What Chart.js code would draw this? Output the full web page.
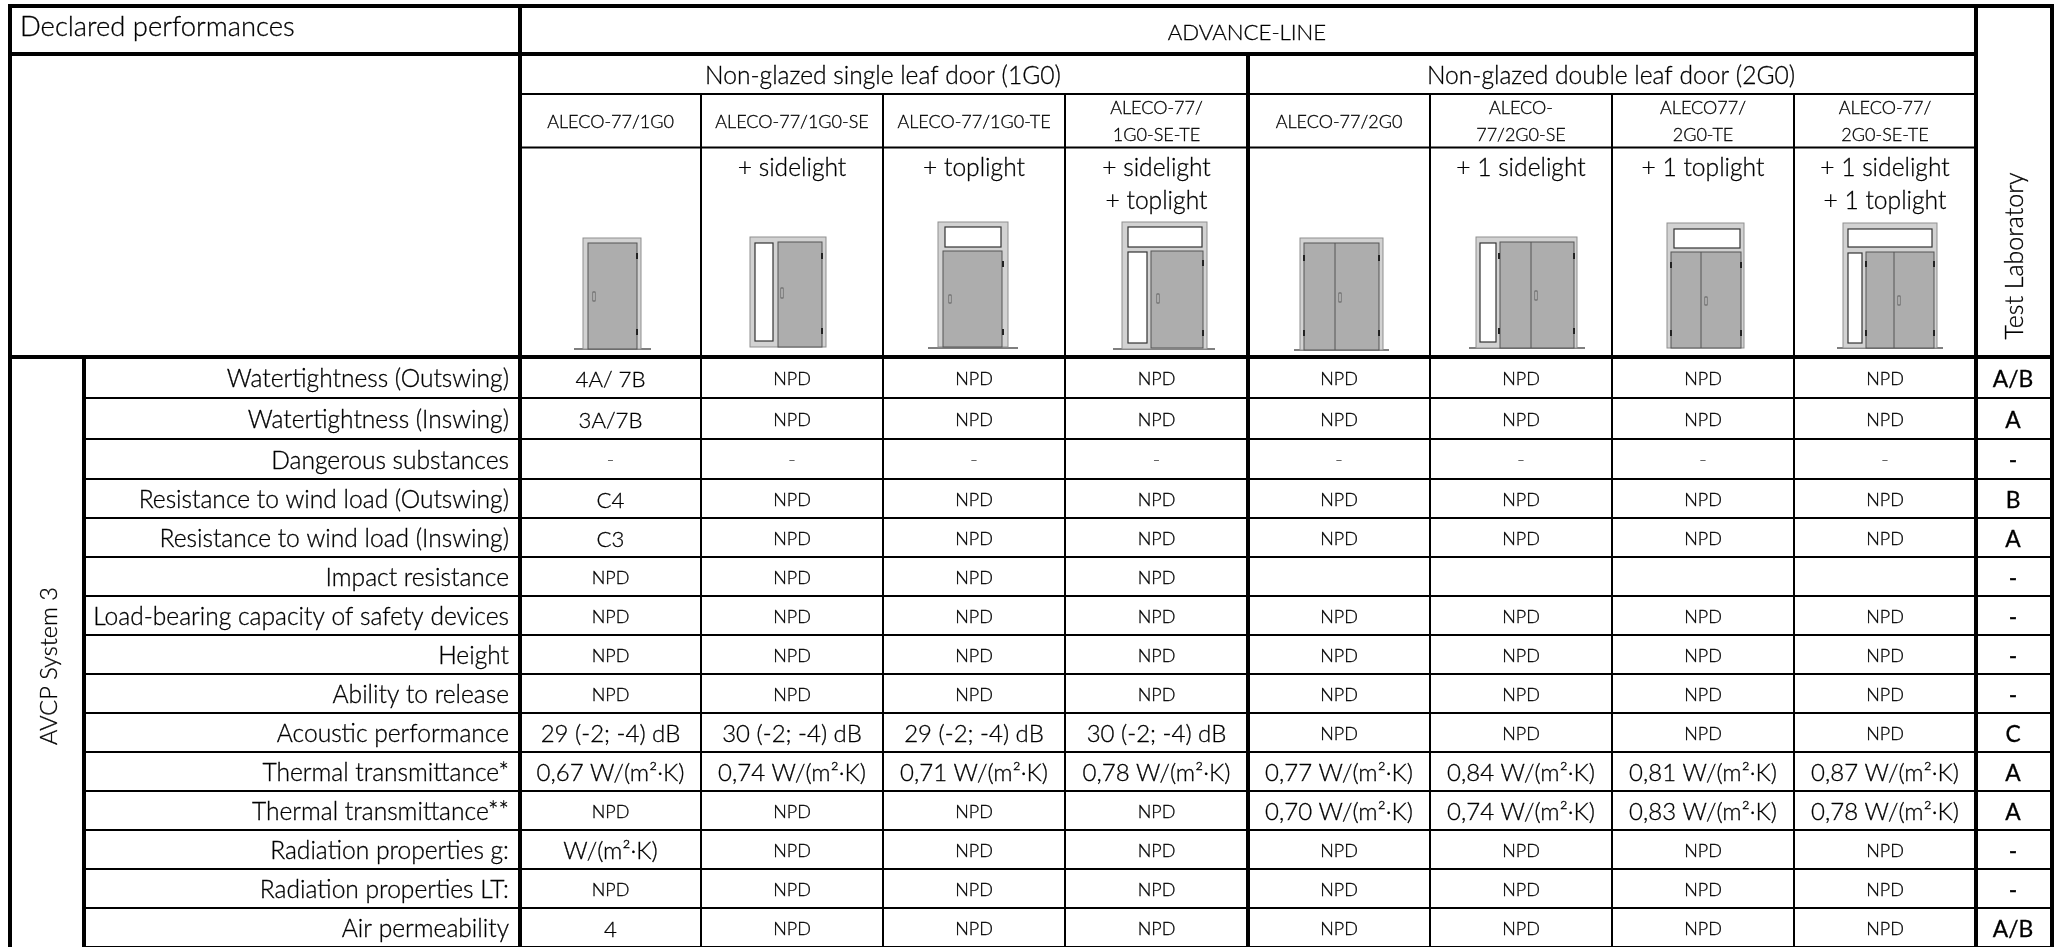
<!DOCTYPE html>
<html>
<head>
<meta charset="utf-8">
<title>Declared performances</title>
<script src="https://cdn.jsdelivr.net/npm/chart.js@4"></script>
<style>
  html, body { margin: 0; padding: 0; background: #fff; }
  canvas { display: block; }
</style>
</head>
<body>
<canvas id="tableChart" width="2060" height="947"></canvas>
<script>
// Table content
const rowLabels = [
    'Watertightness (Outswing)', 'Watertightness (Inswing)', 'Dangerous substances',
    'Resistance to wind load (Outswing)', 'Resistance to wind load (Inswing)', 'Impact resistance',
    'Load-bearing capacity of safety devices', 'Height', 'Ability to release', 'Acoustic performance',
    'Thermal transmittance*', 'Thermal transmittance**', 'Radiation properties g:',
    'Radiation properties LT:', 'Air permeability'
];
const watertightOut = ['4A/ 7B', 'NPD', 'NPD', 'NPD', 'NPD', 'NPD', 'NPD', 'NPD'];
const watertightIn = ['3A/7B', 'NPD', 'NPD', 'NPD', 'NPD', 'NPD', 'NPD', 'NPD'];
const dangerous = ['-', '-', '-', '-', '-', '-', '-', '-'];
const windOut = ['C4', 'NPD', 'NPD', 'NPD', 'NPD', 'NPD', 'NPD', 'NPD'];
const windIn = ['C3', 'NPD', 'NPD', 'NPD', 'NPD', 'NPD', 'NPD', 'NPD'];
const impact = ['NPD', 'NPD', 'NPD', 'NPD', '', '', '', ''];
const loadBearing = ['NPD', 'NPD', 'NPD', 'NPD', 'NPD', 'NPD', 'NPD', 'NPD'];
const heightRow = ['NPD', 'NPD', 'NPD', 'NPD', 'NPD', 'NPD', 'NPD', 'NPD'];
const release = ['NPD', 'NPD', 'NPD', 'NPD', 'NPD', 'NPD', 'NPD', 'NPD'];
const acoustic = ['29 (-2; -4) dB', '30 (-2; -4) dB', '29 (-2; -4) dB', '30 (-2; -4) dB', 'NPD', 'NPD', 'NPD', 'NPD'];
const thermal1 = ['0,67 W/(m²·K)', '0,74 W/(m²·K)', '0,71 W/(m²·K)', '0,78 W/(m²·K)', '0,77 W/(m²·K)', '0,84 W/(m²·K)', '0,81 W/(m²·K)', '0,87 W/(m²·K)'];
const thermal2 = ['NPD', 'NPD', 'NPD', 'NPD', '0,70 W/(m²·K)', '0,74 W/(m²·K)', '0,83 W/(m²·K)', '0,78 W/(m²·K)'];
const radiationG = ['W/(m²·K)', 'NPD', 'NPD', 'NPD', 'NPD', 'NPD', 'NPD', 'NPD'];
const radiationLT = ['NPD', 'NPD', 'NPD', 'NPD', 'NPD', 'NPD', 'NPD', 'NPD'];
const airPerm = ['4', 'NPD', 'NPD', 'NPD', 'NPD', 'NPD', 'NPD', 'NPD'];
const testLab = ['A/B', 'A', '-', 'B', 'A', '-', '-', '-', '-', 'C', 'A', 'A', '-', '-', 'A/B'];

const modelNames = [
    ['ALECO-77/1G0'], ['ALECO-77/1G0-SE'], ['ALECO-77/1G0-TE'], ['ALECO-77/', '1G0-SE-TE'],
    ['ALECO-77/2G0'], ['ALECO-', '77/2G0-SE'], ['ALECO77/', '2G0-TE'], ['ALECO-77/', '2G0-SE-TE']
];
const extras = [
    [], ['+ sidelight'], ['+ toplight'], ['+ sidelight', '+ toplight'],
    [], ['+ 1 sidelight'], ['+ 1 toplight'], ['+ 1 sidelight', '+ 1 toplight']
];

const valueRows = [watertightOut, watertightIn, dangerous, windOut, windIn, impact, loadBearing,
    heightRow, release, acoustic, thermal1, thermal2, radiationG, radiationLT, airPerm];

// Layout, in canvas units (the scales below run 1:1 with the canvas)
const columnEdges = [520, 701, 883, 1065, 1248, 1430, 1612, 1794, 1976];
const rowEdges = [357, 398, 439, 479, 518, 557, 596, 635, 674, 713, 752, 791, 830, 869, 908, 947];
const thickColumns = [84, 520, 1248, 1976, 2052];
const FONT = 'Lato, "Open Sans", sans-serif';

// Door pictograms: outer frame, leaf, optional sidelight/toplight, mullion, handle, hinges
const doors = [
    { frame: [583, 238, 641, 349], leaf: [588, 243, 637, 349], handle: [594, 292, 301], hinges: [637], hingeY: [256, 332], floor: [574, 651, 349] },
    { frame: [750, 237, 826, 347], leaf: [778, 242, 822, 347], side: [755, 243, 773, 341], handle: [782, 288, 298], hinges: [822], hingeY: [256, 331] },
    { frame: [938, 222, 1008, 347], leaf: [943, 251, 1002, 347], top: [945, 227, 1001, 247], handle: [950, 295, 303], hinges: [1003], hingeY: [264, 332], floor: [928, 1018, 348] },
    { frame: [1122, 222, 1207, 349], leaf: [1151, 251, 1203, 348], side: [1128, 252, 1147, 343], top: [1128, 227, 1202, 247], handle: [1158, 294, 303], hinges: [1203], hingeY: [263, 333], floor: [1113, 1215, 349] },
    { frame: [1300, 238, 1383, 350], leaf: [1304, 243, 1379, 350], mid: 1335, handle: [1340, 293, 302], hinges: [1304, 1379], hingeY: [258, 333], floor: [1294, 1389, 350] },
    { frame: [1476, 237, 1577, 348], leaf: [1500, 242, 1574, 348], side: [1480, 243, 1496, 342], mid: 1531, handle: [1536, 291, 300], hinges: [1499, 1574], hingeY: [256, 331], floor: [1469, 1585, 348] },
    { frame: [1667, 223, 1744, 348], leaf: [1671, 252, 1741, 348], top: [1674, 229, 1740, 248], mid: 1701, handle: [1706, 297, 305], hinges: [1671, 1741], hingeY: [265, 333] },
    { frame: [1843, 223, 1937, 348], leaf: [1866, 252, 1934, 348], side: [1848, 253, 1862, 343], top: [1848, 229, 1932, 247], mid: 1894, handle: [1899, 296, 305], hinges: [1866, 1934], hingeY: [264, 333], floor: [1837, 1943, 348] }
];

const centerOf = (edges, i) => (edges[i] + edges[i + 1]) / 2;

// Table cells as points on the scales; the plugin writes their text
const cellPoints = [];
valueRows.forEach((row, r) => row.forEach((text, c) => {
    cellPoints.push({ x: centerOf(columnEdges, c), y: centerOf(rowEdges, r) + 2, text: text });
}));
const labelPoints = rowLabels.map((text, r) => ({ x: 509, y: centerOf(rowEdges, r) + 2, text: text }));
const labPoints = testLab.map((text, r) => ({ x: 2013, y: centerOf(rowEdges, r) + 2, text: text }));

function writeText(ctx, text, x, y, size, align, color, weight) {
    ctx.save();
    ctx.font = (weight || 300) + ' ' + size + 'px ' + FONT;
    ctx.fillStyle = color || '#000';
    ctx.textAlign = align || 'center';
    ctx.textBaseline = 'middle';
    ctx.fillText(text, x, y);
    // Lato Light comes out thinner than the original text, thicken it a little
    ctx.strokeStyle = ctx.fillStyle;
    ctx.lineWidth = 0.3;
    ctx.strokeText(text, x, y);
    ctx.restore();
}

function writeVertical(ctx, text, x, y, size) {
    ctx.save();
    ctx.translate(x, y);
    ctx.rotate(-Math.PI / 2);
    writeText(ctx, text, 0, 0, size);
    ctx.restore();
}

const tablePlugin = {
    id: 'tablePlugin',
    afterDraw(chart) {
        const { ctx, scales: { x, y } } = chart;
        const px = v => x.getPixelForValue(v);
        const py = v => y.getPixelForValue(v);

        const rule = (x0, y0, x1, y1, w) => {
            ctx.beginPath();
            ctx.lineWidth = w;
            ctx.strokeStyle = '#000';
            ctx.moveTo(px(x0), py(y0));
            ctx.lineTo(px(x1), py(y1));
            ctx.stroke();
        };
        const box = (r, fill) => {
            ctx.fillStyle = fill;
            ctx.fillRect(px(r[0]), py(r[1]), px(r[2]) - px(r[0]), py(r[3]) - py(r[1]));
        };

        // Header rules, the library's grid only covers the value rows
        rule(8, 6, 2054, 6, 4);
        rule(8, 54, 1976, 54, 4);
        rule(520, 94, 1976, 94, 2);
        rule(520, 147.5, 1976, 147.5, 2);
        rule(8, 357, 2054, 357, 4);
        rule(10, 4, 10, 947, 4);
        rule(520, 4, 520, 357, 4);
        rule(1976, 4, 1976, 357, 4);
        rule(2052, 4, 2052, 357, 4);
        rule(1248, 54, 1248, 357, 4);
        columnEdges.forEach(v => {
            if (!thickColumns.includes(v)) rule(v, 94, v, 357, 2);
        });

        // Header text
        writeText(ctx, 'Declared performances', 20, 27, 27.4, 'left');
        writeText(ctx, 'ADVANCE-LINE', 1247, 33, 22.2);
        writeText(ctx, 'Non-glazed single leaf door (1G0)', 883, 76, 24.6);
        writeText(ctx, 'Non-glazed double leaf door (2G0)', 1611, 76, 24.6);
        writeVertical(ctx, 'Test Laboratory', px(2015), py(256), 25);
        writeVertical(ctx, 'AVCP System 3', px(49), py(666), 23.5);

        modelNames.forEach((lines, c) => {
            const cx = px(centerOf(columnEdges, c));
            if (lines.length === 1) writeText(ctx, lines[0], cx, py(122), 18);
            else {
                writeText(ctx, lines[0], cx, py(108), 18);
                writeText(ctx, lines[1], cx, py(135), 18);
            }
        });
        extras.forEach((lines, c) => {
            const cx = px(centerOf(columnEdges, c));
            lines.forEach((t, i) => writeText(ctx, t, cx, py(168 + i * 33), 24.6));
        });

        // Door pictograms
        doors.forEach(d => {
            if (d.floor) rule(d.floor[0], d.floor[2], d.floor[1], d.floor[2], 1.2);
            box(d.frame, '#d2d2d2');
            ctx.strokeStyle = '#8f8f8f';
            ctx.lineWidth = 1;
            ctx.strokeRect(px(d.frame[0]), py(d.frame[1]), px(d.frame[2]) - px(d.frame[0]), py(d.frame[3]) - py(d.frame[1]));
            box(d.leaf, '#adadad');
            ctx.strokeStyle = '#555';
            ctx.strokeRect(px(d.leaf[0]), py(d.leaf[1]), px(d.leaf[2]) - px(d.leaf[0]), py(d.leaf[3]) - py(d.leaf[1]));
            [d.side, d.top].forEach(g => {
                if (!g) return;
                box(g, '#fff');
                ctx.strokeStyle = '#333';
                ctx.lineWidth = 1.2;
                ctx.strokeRect(px(g[0]), py(g[1]), px(g[2]) - px(g[0]), py(g[3]) - py(g[1]));
            });
            if (d.mid) {
                ctx.beginPath();
                ctx.lineWidth = 1;
                ctx.strokeStyle = '#555';
                ctx.moveTo(px(d.mid), py(d.leaf[1]));
                ctx.lineTo(px(d.mid), py(d.leaf[3]));
                ctx.stroke();
            }
            ctx.fillStyle = '#eee';
            ctx.strokeStyle = '#444';
            ctx.lineWidth = 0.8;
            ctx.fillRect(px(d.handle[0]) - 1, py(d.handle[1]), 2, py(d.handle[2]) - py(d.handle[1]));
            ctx.strokeRect(px(d.handle[0]) - 1, py(d.handle[1]), 2, py(d.handle[2]) - py(d.handle[1]));
            ctx.fillStyle = '#222';
            d.hinges.forEach(h => d.hingeY.forEach(hy => {
                ctx.fillRect(px(h) - 1, py(hy) - 3, 2, 6);
            }));
        });

        // Cell text from the datasets
        const capsOnly = /^[0-9A-Z\/ ]+$/;
        chart.getDatasetMeta(0).data.forEach((pt, i) => {
            const text = cellPoints[i].text;
            if (!text) return;
            if (text === '-') writeText(ctx, text, pt.x, pt.y - 1, 20, 'center', '#555');
            else if (text === 'NPD') writeText(ctx, text, pt.x, pt.y, 18);
            else writeText(ctx, text, pt.x, pt.y, capsOnly.test(text) ? 22.2 : 24);
        });
        chart.getDatasetMeta(1).data.forEach((pt, i) => {
            writeText(ctx, labelPoints[i].text, pt.x, pt.y, 24.6, 'right');
        });
        chart.getDatasetMeta(2).data.forEach((pt, i) => {
            writeText(ctx, labPoints[i].text, pt.x, pt.y, 22.8, 'center', '#000', 400);
        });
    }
};

new Chart(document.getElementById('tableChart'), {
    type: 'scatter',
    data: {
        datasets: [
            { label: 'Values', data: cellPoints, pointRadius: 0 },
            { label: 'Properties', data: labelPoints, pointRadius: 0 },
            { label: 'Test laboratory', data: labPoints, pointRadius: 0 }
        ]
    },
    options: {
        responsive: false,
        animation: false,
        events: [],
        layout: { padding: { left: 84, top: 357, right: 8, bottom: 0 } },
        plugins: { legend: { display: false }, tooltip: { enabled: false }, title: { display: false } },
        scales: {
            x: {
                type: 'linear',
                min: 84,
                max: 2052,
                afterBuildTicks: s => {
                    s.ticks = [84, ...columnEdges, 2052].map(v => ({ value: v }));
                },
                ticks: { display: false },
                border: { display: false },
                grid: {
                    color: '#000',
                    drawTicks: false,
                    lineWidth: c => (thickColumns.includes(c.tick && c.tick.value) ? 4 : 2)
                }
            },
            y: {
                type: 'linear',
                reverse: true,
                min: 357,
                max: 947,
                afterBuildTicks: s => {
                    s.ticks = rowEdges.map(v => ({ value: v }));
                },
                ticks: { display: false },
                border: { display: false },
                grid: { color: '#000', drawTicks: false, lineWidth: 2 }
            }
        }
    },
    plugins: [tablePlugin]
});
</script>
</body>
</html>
